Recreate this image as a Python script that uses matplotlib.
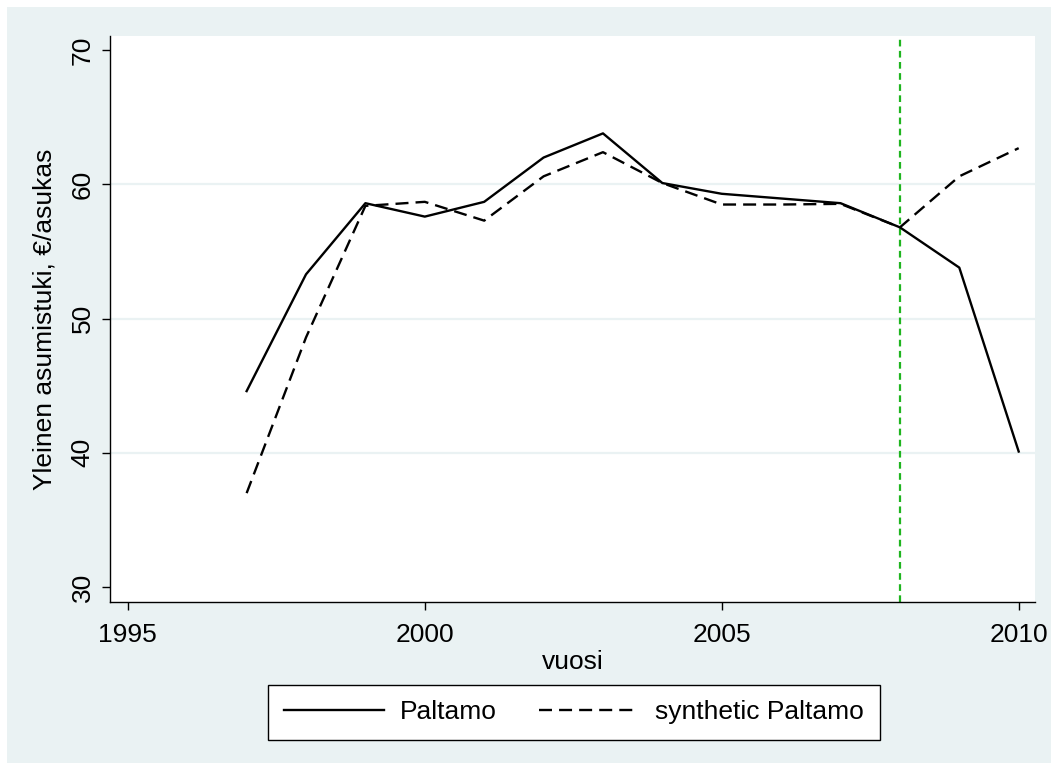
import matplotlib.pyplot as plt
from matplotlib.patches import Rectangle

plt.rcParams['font.family'] = ['Liberation Sans', 'DejaVu Sans']

# Vuosittaiset arvot, €/asukas
years = [1997, 1998, 1999, 2000, 2001, 2002, 2003, 2004, 2005, 2006, 2007, 2008, 2009, 2010]
paltamo = [44.6, 53.3, 58.6, 57.6, 58.7, 62.0, 63.8, 60.1, 59.3, 58.95, 58.6, 56.8, 53.8, 40.1]
synthetic = [37.0, 48.6, 58.4, 58.7, 57.3, 60.6, 62.4, 60.1, 58.5, 58.5, 58.55, 56.8, 60.6, 62.7]
treatment_year = 2008

x_ticks = [1995, 2000, 2005, 2010]
y_ticks = [30, 40, 50, 60, 70]
grid_levels = [40, 50, 60]

bg = '#eaf2f3'
fs = 19

fig = plt.figure(figsize=(10.58, 7.70), dpi=100, facecolor='white')
fig.patches.append(Rectangle((7 / 1058, 7 / 770), 1044 / 1058, 756 / 770,
                             transform=fig.transFigure, facecolor=bg,
                             edgecolor='none', zorder=-10))

ax = fig.add_axes([0.104, 0.218, 0.874, 0.735])
ax.set_zorder(1)
ax.set_facecolor('white')

for g in grid_levels:
    ax.axhline(g, color=bg, lw=1.6, zorder=1)

ax.plot(years, paltamo, color='black', lw=1.7, label='Paltamo', zorder=3)
ax.plot(years, synthetic, color='black', lw=1.7, dashes=(5.5, 3),
        label='synthetic Paltamo', zorder=3)
ax.axvline(treatment_year, color='#1fb51f', lw=1.6, dashes=(3, 2), zorder=2)

ax.set_xlim(1994.7, 2010.27)
ax.set_ylim(28.88, 71.04)
ax.set_xticks(x_ticks)
ax.set_yticks(y_ticks)
ax.tick_params(axis='both', direction='out', length=6, width=1,
               labelsize=fs, colors='black', pad=5)
ax.tick_params(axis='x', pad=9)
for lab in ax.get_yticklabels():
    lab.set_rotation(90)
    lab.set_va('center')

for side in ['top', 'right']:
    ax.spines[side].set_visible(False)
for side in ['left', 'bottom']:
    ax.spines[side].set_linewidth(1)
    ax.spines[side].set_color('black')

ax.set_xlabel('vuosi', fontsize=fs, labelpad=2)
ax.set_ylabel('Yleinen asumistuki, €/asukas', fontsize=fs, labelpad=10)

leg = fig.legend(loc='center', bbox_to_anchor=(0.5425, 0.0747), ncol=2,
                 fontsize=fs, frameon=True, fancybox=False, edgecolor='black',
                 facecolor='white', framealpha=1, handlelength=3.8,
                 handletextpad=0.6, columnspacing=1.6, borderpad=0.6)
leg.get_frame().set_linewidth(1)

fig.savefig('out.png', dpi=100, facecolor=fig.get_facecolor())
